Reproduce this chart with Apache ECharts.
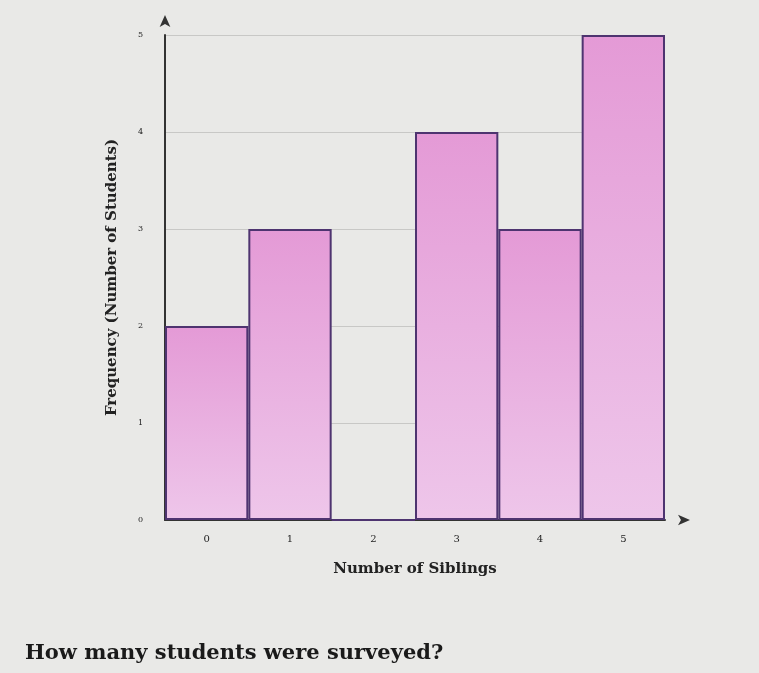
<!DOCTYPE html>
<html>
<head>
<meta charset="utf-8">
<script src="https://cdn.jsdelivr.net/npm/echarts@6/dist/echarts.min.js"></script>
<style>
  html, body { margin: 0; padding: 0; background: #e9e9e7; }
  #chart { width: 759px; height: 673px; }
</style>
</head>
<body>
<div id="chart"></div>
<script>
//兄弟姐妹数量
var siblings = ['0', '1', '2', '3', '4', '5'];
//学生人数
var frequency = [2, 3, 0, 4, 3, 5];
var yTicks = ['0', '1', '2', '3', '4', '5'];

var myChart = echarts.init(document.getElementById("chart"));
var option = {
    backgroundColor: '#e9e9e7',
    textStyle: { fontFamily: 'DejaVu Serif' },
    grid: { left: 165, right: 94, top: 35, bottom: 153 },
    title: {
        text: 'How many students were surveyed?',
        left: 20, top: 638,
        textStyle: { fontFamily: 'DejaVu Serif', fontSize: 21, fontWeight: 'bold', color: '#1a1a1a' }
    },
    xAxis: {
        type: 'category',
        data: siblings,
        name: 'Number of Siblings',
        nameLocation: 'middle',
        nameGap: 42,
        nameTextStyle: { fontSize: 15, fontWeight: 'bold', color: '#222' },
        axisLine: { show: true, symbol: ['none', 'arrow'], symbolSize: [8, 12], symbolOffset: [0, 25], lineStyle: { color: '#333', width: 2 } },
        axisTick: { show: false },
        axisLabel: { fontSize: 10, color: '#222', margin: 14 }
    },
    yAxis: {
        type: 'value',
        min: 0, max: 5, interval: 1,
        name: 'Frequency (Number of Students)',
        nameLocation: 'middle',
        nameGap: 45,
        nameTextStyle: { fontSize: 15, fontWeight: 'bold', color: '#222' },
        axisLine: { show: true, symbol: ['none', 'arrow'], symbolSize: [8, 12], symbolOffset: [0, 20], lineStyle: { color: '#333', width: 2 } },
        axisTick: { show: false },
        axisLabel: { fontSize: 8, color: '#222', margin: 22, formatter: function (v) { return yTicks[v]; } },
        splitLine: { show: true, lineStyle: { color: '#c8c8c6', width: 1 } }
    },
    series: [{
        type: 'bar',
        data: frequency,
        barCategoryGap: '0%',
        itemStyle: {
            color: new echarts.graphic.LinearGradient(0, 0, 0, 1, [
                { offset: 0, color: '#e49ad6' },
                { offset: 1, color: '#eec6ea' }
            ]),
            borderColor: '#4e3470',
            borderWidth: 2
        }
    }]
};
myChart.setOption(option, true);
</script>
</body>
</html>
